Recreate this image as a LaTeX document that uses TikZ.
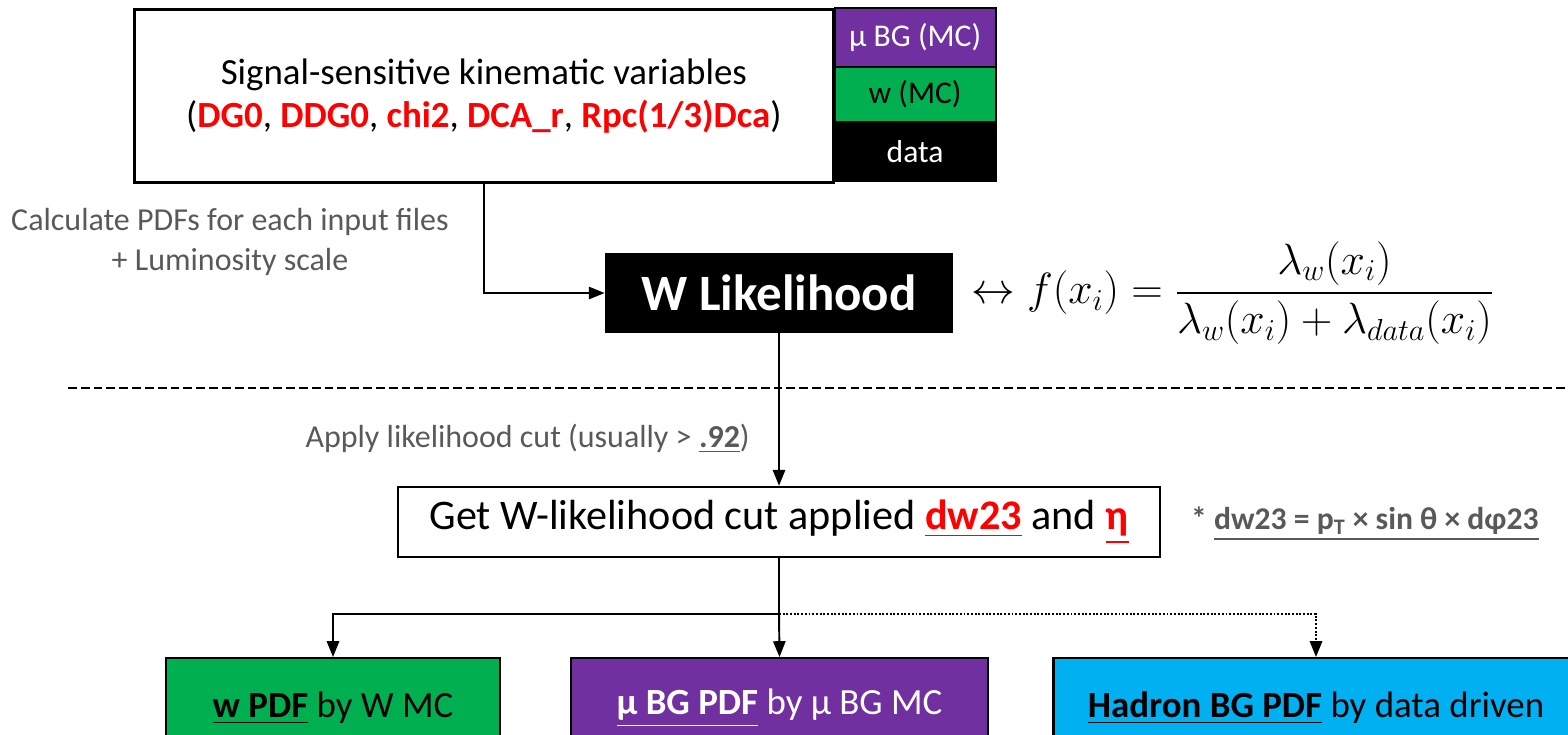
\documentclass[tikz,border=0pt]{standalone}
\usepackage{amsmath}
\usepackage{fontspec}
\setmainfont{Carlito}
\usetikzlibrary{positioning,calc,arrows.meta}
\definecolor{MuPurple}{RGB}{112,48,160}
\definecolor{WGreen}{RGB}{0,176,80}
\definecolor{HadCyan}{RGB}{0,176,240}
\definecolor{VarRed}{RGB}{255,0,0}
\definecolor{NoteGray}{RGB}{89,89,89}
\newcommand{\kinvar}[1]{\textcolor{VarRed}{\textbf{#1}}}
\newcommand{\redul}[1]{\textcolor{VarRed}{\underline{\textbf{#1}}}}
\tikzset{
	box/.style={draw=black,line width=1.5pt,fill=white,align=center,inner sep=0pt},
	tag/.style={draw=black,line width=1.2pt,minimum width=3.22cm,inner sep=0pt,outer sep=0pt,
		font=\fontsize{18}{20}\selectfont},
	pdfbox/.style={draw=black,line width=1.2pt,anchor=north,minimum height=2cm,
		inner sep=0pt,font=\fontsize{21}{24}\selectfont},
	link/.style={draw=black,line width=1.1pt},
	arr/.style={link,-{Triangle[length=9pt,width=7pt]}},
	note/.style={text=NoteGray,align=center,font=\fontsize{18.2}{22.7}\selectfont},
}

\begin{document}
\begin{tikzpicture}
	\useasboundingbox (0,0) rectangle (31.36,-14.68);
	% input variables and samples
	\node[box,minimum width=13.98cm,minimum height=3.46cm,anchor=north west,
		font=\fontsize{21}{24.5}\selectfont] (sig) at (2.66,-0.16)
		{Signal-sensitive kinematic variables\\(\kinvar{DG0}, \kinvar{DDG0}, \kinvar{chi2}, \kinvar{DCA\_r}, \kinvar{Rpc(1/3)Dca})};
	\node[tag,fill=MuPurple,text=white,minimum height=1.18cm,anchor=north west] (mubg) at (sig.north east) {μ BG (MC)};
	\node[tag,fill=WGreen,minimum height=1.10cm,below=0pt of mubg] (wmc) {w (MC)};
	\node[tag,fill=black,text=white,minimum height=1.18cm,below=0pt of wmc] (data) {data};
	% likelihood
	\node[fill=black,text=white,minimum width=6.96cm,minimum height=1.6cm,
		font=\bfseries\fontsize{29}{30}\selectfont] (wlik) at (15.58,-5.86) {W Likelihood};
	\node[anchor=west,font=\fontsize{24}{27}\selectfont] (lhood) at (19.3,-5.86)
		{$\leftrightarrow f(x_i) = \dfrac{\lambda_w(x_i)}{\lambda_w(x_i)+\lambda_{data}(x_i)}$};
	\node[note] (calc) at (4.6,-4.84) {Calculate PDFs for each input files\\+ Luminosity scale};
	\draw[arr] (sig.south) |- (wlik.west);
	% separator
	\draw[link,dash pattern=on 5pt off 2.3pt] (1.36,-7.76) -- (31.4,-7.76);
	% cut
	\node[box,minimum width=15.24cm,minimum height=1.4cm,line width=1.4pt,
		font=\fontsize{24}{27}\selectfont] (cut) at (15.58,-10.44)
		{Get W-likelihood cut applied \redul{dw23} and \redul{η}};
	\draw[arr] (wlik.south) -- node[note,anchor=east,pos=0.69,xshift=-0.45cm] (cutnote)
		{Apply likelihood cut (usually > \underline{\textbf{.92}})} (cut.north);
	\node[anchor=west,text=NoteGray,font=\bfseries\fontsize{18}{20}\selectfont] (dwnote) at (23.7,-10.48)
		{* \underline{dw23 = p\textsubscript{T} × sin θ × dφ23}};
	% PDFs
	\coordinate (fork) at (15.58,-12.28);
	\node[pdfbox,fill=WGreen,minimum width=6.68cm] (wpdf) at (6.66,-13.14)
		{\underline{\textbf{w PDF}} by W MC};
	\node[pdfbox,fill=MuPurple,text=white,minimum width=8.34cm] (mupdf) at (15.59,-13.14)
		{\underline{\textbf{μ BG PDF}} by μ BG MC};
	\node[pdfbox,fill=HadCyan,minimum width=10.5cm] (hadpdf) at (26.32,-13.14)
		{\underline{\textbf{Hadron BG PDF}} by data driven};
	\draw[link] (cut.south) -- (fork);
	\draw[arr] (fork) -| (wpdf.north);
	\draw[arr] (fork) -- (mupdf.north);
	\draw[arr,densely dotted] (fork) -| (hadpdf.north);
\end{tikzpicture}
\end{document}
